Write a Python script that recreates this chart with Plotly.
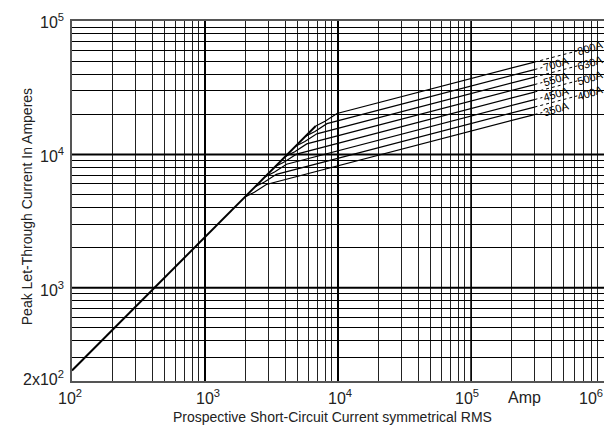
import math
import plotly.graph_objects as go

# ---- data ----
ratings = ["800A", "700A", "630A", "550A", "500A", "450A", "400A", "350A"]
# unlimited (prospective) peak line
diag_x = [100, 6803]
diag_y = [240, 16330]
# knee of every fuse curve: departure, mid-knee, join, end
dep_x = [6803, 5713, 4796, 4025, 3380, 2838, 2382, 2001]
dep_y = [16330, 13710, 11510, 9660, 8110, 6810, 5717, 4800]
mid_x = [7990, 6710, 5636, 4730, 3972, 3334, 2800, 2350]
mid_y = [17700, 14860, 12480, 10480, 8800, 7385, 6200, 5205]
join_x = [9833, 8257, 6931, 5820, 4886, 4102, 3443, 2892]
join_y = [20240, 16990, 14260, 11980, 10050, 8440, 7087, 5950]
end_x = 3.0e5
end_y = [49200, 43230, 37980, 33380, 29330, 25760, 22630, 19890]
leader_slope = 0.26
label_start = [6.3e5, 3.44e5]   # right column, left column
label_center = [7.78e5, 4.33e5]

x_decades = [1e3, 1e4, 1e5]
y_decades = [1e3, 1e4]
x_tick_text = ["10<sup>2</sup>", "10<sup>3</sup>", "10<sup>4</sup>", "10<sup>5</sup>", "Amp", "10<sup>6</sup>"]
y_tick_text = ["2x10<sup>2</sup>", "10<sup>3</sup>", "10<sup>4</sup>", "10<sup>5</sup>"]

FONT = "Liberation Sans, Arial, sans-serif"

x_grid = [m * 10 ** k for k in range(2, 6) for m in range(1, 10)] + [1e6]
y_grid = [v for v in [m * 10 ** k for k in range(2, 5) for m in range(1, 10)] if v >= 200] + [1e5]

fig = go.Figure()

# heavier decade lines
for xv in x_decades:
    fig.add_trace(go.Scatter(x=[xv, xv], y=[200, 1e5], mode="lines",
                             line=dict(color="black", width=2 if xv < 1e5 else 1.5),
                             hoverinfo="skip", showlegend=False))
for yv in y_decades:
    fig.add_trace(go.Scatter(x=[100, 1e6], y=[yv, yv], mode="lines",
                             line=dict(color="black", width=2),
                             hoverinfo="skip", showlegend=False))

# unlimited line
fig.add_trace(go.Scatter(x=diag_x, y=diag_y, mode="lines",
                         line=dict(color="black", width=2), showlegend=False))

annotations = []
for i, r in enumerate(ratings):
    xs = [dep_x[i], mid_x[i], join_x[i], end_x]
    ys = [dep_y[i], mid_y[i], join_y[i], end_y[i]]
    fig.add_trace(go.Scatter(x=xs, y=ys, mode="lines", name=r,
                             line=dict(color="black", width=1.2), showlegend=False))
    col = 0 if i % 2 == 0 else 1
    lx = label_start[col]
    ly = end_y[i] * (lx / end_x) ** leader_slope
    fig.add_trace(go.Scatter(x=[end_x, lx], y=[end_y[i], ly], mode="lines",
                             line=dict(color="black", width=1, dash="dot"),
                             hoverinfo="skip", showlegend=False, cliponaxis=False))
    cx = label_center[col]
    cy = end_y[i] * (cx / end_x) ** leader_slope
    annotations.append(dict(x=math.log10(cx), y=math.log10(cy), xref="x", yref="y",
                            text=r, showarrow=False, textangle=-17,
                            font=dict(family=FONT, size=11, color="black"),
                            xanchor="center", yanchor="middle"))

# axis tick labels (paper positions of the label centres)
x_lab_pos = [-0.004, 0.2547, 0.5038, 0.7434, 0.8515, 0.975]
for t, p in zip(x_tick_text, x_lab_pos):
    annotations.append(dict(x=p, y=-0.045, xref="paper", yref="paper", text=t, showarrow=False,
                            font=dict(family=FONT, size=16, color="#222"),
                            xanchor="center", yanchor="middle"))
y_lab_pos = [math.log10(200), 3, 4, 5]
y_lab_shift = [3, -1, -1, 0]
for t, p, s in zip(y_tick_text, y_lab_pos, y_lab_shift):
    annotations.append(dict(x=-0.012, y=p, xref="paper", yref="y", text=t, showarrow=False,
                            font=dict(family=FONT, size=16, color="#222"),
                            xanchor="right", yanchor="middle", yshift=s))

annotations.append(dict(x=0.49, y=-0.1, xref="paper", yref="paper",
                        text="Prospective Short-Circuit Current symmetrical RMS",
                        showarrow=False, font=dict(family=FONT, size=14, color="#222"),
                        xanchor="center", yanchor="middle"))
annotations.append(dict(x=-0.083, y=0.485, xref="paper", yref="paper",
                        text="Peak Let-Through Current In Amperes", textangle=-90,
                        showarrow=False, font=dict(family=FONT, size=14, color="#222"),
                        xanchor="center", yanchor="middle"))

fig.update_layout(
    width=604, height=429,
    margin=dict(l=72, r=0, t=21, b=48, autoexpand=False),
    paper_bgcolor="white", plot_bgcolor="white",
    annotations=annotations,
    xaxis=dict(type="log", range=[2, 6], tickvals=x_grid, showticklabels=False,
               showgrid=True, gridcolor="#222", gridwidth=1, zeroline=False,
               showline=True, linecolor="#555", linewidth=1.5, mirror=True, ticks=""),
    yaxis=dict(type="log", range=[math.log10(200), 5], tickvals=y_grid, showticklabels=False,
               showgrid=True, gridcolor="black", gridwidth=1, zeroline=False,
               showline=True, linecolor="#555", linewidth=1.5, mirror=True, ticks=""),
)

fig.write_html("out.html", config={"displayModeBar": False},
               post_script="document.body.style.margin='0';document.body.style.overflow='hidden';")
